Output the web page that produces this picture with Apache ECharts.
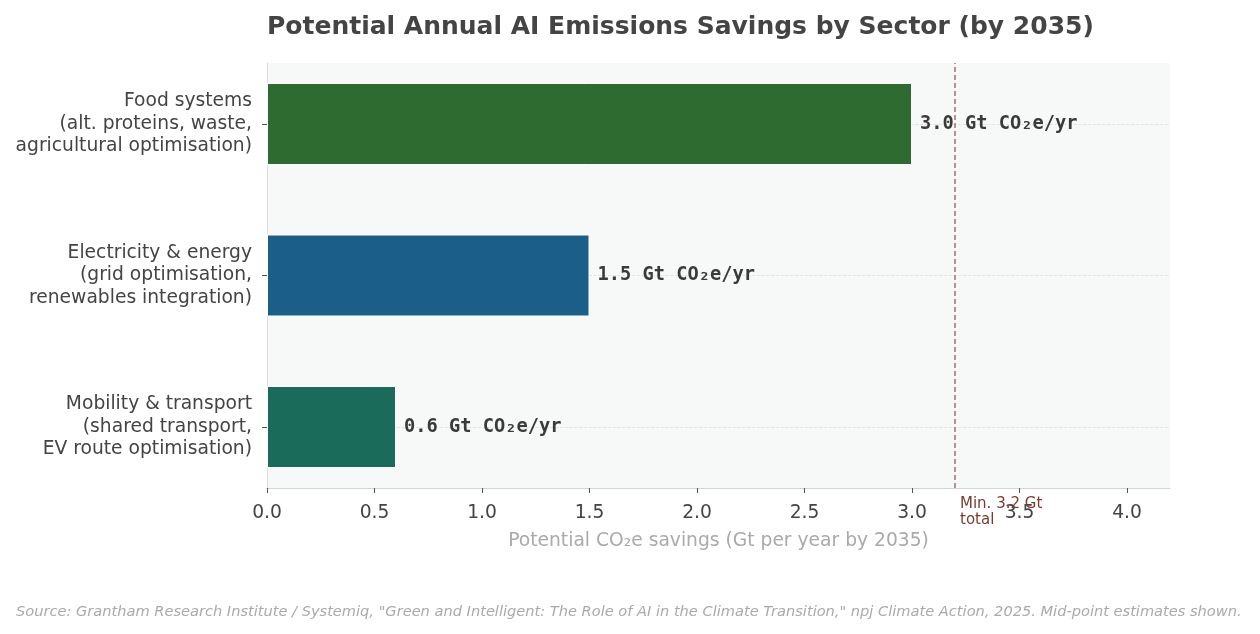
<!DOCTYPE html>
<html>
<head>
<meta charset="utf-8">
<script src="https://cdn.jsdelivr.net/npm/echarts@6/dist/echarts.min.js"></script>
<style>html,body{margin:0;padding:0;background:#fff}#c{width:1260px;height:634px}</style>
</head>
<body>
<div id="c"></div>
<script>
const categories = [
  'Food systems\n(alt. proteins, waste,\nagricultural optimisation)',
  'Electricity & energy\n(grid optimisation,\nrenewables integration)',
  'Mobility & transport\n(shared transport,\nEV route optimisation)'
];
const savings = [3.0, 1.5, 0.6];
const barColors = ['#2e6b30', '#1b5e8a', '#1b6b5a'];
const xTicks = [0, 0.5, 1.0, 1.5, 2.0, 2.5, 3.0, 3.5, 4.0];
const totalMin = 3.2;
const xMax = 4.2;

const chart = echarts.init(document.getElementById('c'));
const font = 'DejaVu Sans';
chart.setOption({
  animation: false,
  backgroundColor: '#ffffff',
  title: [
    { text: 'Potential Annual AI Emissions Savings by Sector (by 2035)', left: 267, top: 15, padding: 0,
      textStyle: { fontFamily: font, fontSize: 25, fontWeight: 'bold', color: '#444444' } },
    { text: 'Source: Grantham Research Institute / Systemiq, "Green and Intelligent: The Role of AI in the Climate Transition," npj Climate Action, 2025. Mid-point estimates shown.',
      left: 16, top: 605, padding: 0,
      textStyle: { fontFamily: font, fontSize: 14.6, fontStyle: 'italic', fontWeight: 'normal', color: '#aaaaaa' } }
  ],
  grid: [
    { left: 267, right: 90, top: 48.25, height: 454.5, containLabel: false },
    { left: 267, right: 90, top: 63, height: 425, show: true, backgroundColor: '#f7f8f8', borderWidth: 0, z: -1 }
  ],
  xAxis: [
    { gridIndex: 0, type: 'value', min: 0, max: xMax, show: false },
    { gridIndex: 1, type: 'value', min: 0, max: xMax,
      axisLine: { show: true, lineStyle: { color: '#d4d4d4', width: 1 } },
      axisTick: { show: true, length: 5, lineStyle: { color: '#555555' }, customValues: xTicks },
      axisLabel: { customValues: xTicks, formatter: v => v.toFixed(1), fontFamily: font, fontSize: 18.7, color: '#444444', margin: 16 },
      splitLine: { show: false },
      name: 'Potential CO₂e savings (Gt per year by 2035)', nameLocation: 'middle', nameGap: 44,
      nameTextStyle: { fontFamily: font, fontSize: 18.7, color: '#aaaaaa' } }
  ],
  yAxis: [
    { gridIndex: 0, type: 'category', data: categories, inverse: true,
      axisLine: { show: false },
      axisTick: { show: true, alignWithLabel: true, length: 5, lineStyle: { color: '#555555' } },
      axisLabel: { fontFamily: font, fontSize: 18.7, color: '#444444', lineHeight: 22.5, margin: 15, align: 'right', padding: [6, 0, 0, 0] },
      splitLine: { show: false } },
    { gridIndex: 1, type: 'value', min: 0, max: 1,
      axisLine: { show: true, lineStyle: { color: '#dddddd' } },
      axisTick: { show: false }, axisLabel: { show: false }, splitLine: { show: false } }
  ],
  series: [
    { type: 'line', xAxisIndex: 0, yAxisIndex: 0, data: [], silent: true, z: 1,
      markLine: { silent: true, symbol: 'none', z: 1, label: { show: false },
        lineStyle: { type: 'dashed', color: '#dedede', width: 0.8 },
        data: categories.map(c => ({ yAxis: c })) } },
    { type: 'bar', xAxisIndex: 0, yAxisIndex: 0, barWidth: 82, z: 3,
      data: savings.map((v, i) => ({ value: v, itemStyle: { color: barColors[i] } })),
      itemStyle: { borderColor: '#ffffff', borderWidth: 1 },
      label: { show: true, position: 'right', distance: 8,
        formatter: p => p.value.toFixed(1) + ' Gt CO₂e/yr',
        fontFamily: 'DejaVu Sans Mono', fontWeight: 'bold', fontSize: 18.7, color: '#3a3a3a', textBorderWidth: 0 } },
    { type: 'line', xAxisIndex: 1, yAxisIndex: 1, data: [], silent: true, z: 4,
      markLine: { silent: true, symbol: 'none', z: 2,
        lineStyle: { type: [5, 3], color: '#a07272', width: 1.5 },
        label: { show: true, position: 'start', formatter: 'Min. ' + totalMin + ' Gt\ntotal',
          align: 'left', verticalAlign: 'top', distance: [5, 8], offset: [5, 0],
          fontFamily: font, fontSize: 15, lineHeight: 16, color: '#7b3b2e' },
        data: [{ xAxis: totalMin }] } }
  ]
});
</script>
</body>
</html>
